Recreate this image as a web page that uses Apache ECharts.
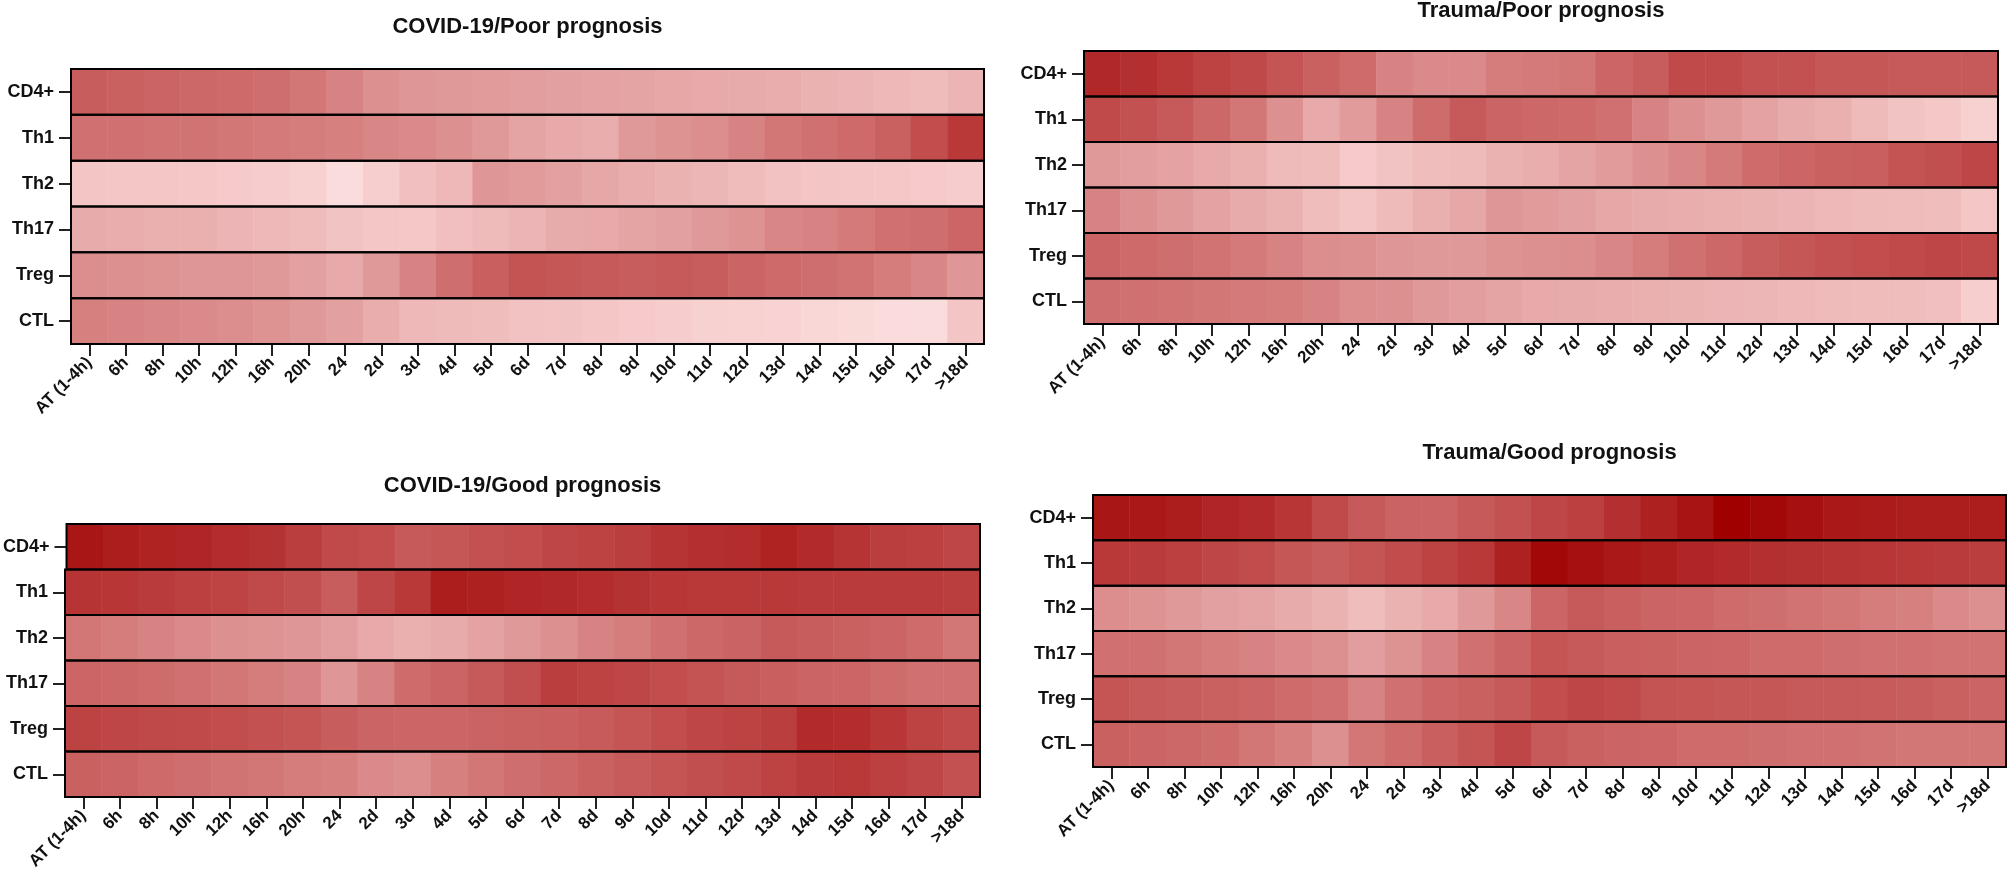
<!DOCTYPE html>
<html>
<head>
<meta charset="utf-8">
<title>T cell heatmaps</title>
<script src="https://cdn.jsdelivr.net/npm/echarts@6/dist/echarts.min.js"></script>
<style>
html, body { margin: 0; padding: 0; background: #fff; }
#main { width: 2008px; height: 883px; }
</style>
</head>
<body>
<div id="main"></div>
<script>
// categories
var timePoints = ['AT (1-4h)', '6h', '8h', '10h', '12h', '16h', '20h', '24', '2d', '3d', '4d', '5d', '6d',
    '7d', '8d', '9d', '10d', '11d', '12d', '13d', '14d', '15d', '16d', '17d', '>18d']
var cellTypes = ['CD4+', 'Th1', 'Th2', 'Th17', 'Treg', 'CTL']
var panelTitles = ['COVID-19/Poor prognosis', 'Trauma/Poor prognosis', 'COVID-19/Good prognosis', 'Trauma/Good prognosis']

// relative intensity (0 = palest, 100 = darkest), one row per cell type
var covidPoor = [
    [60, 58, 56, 54, 53, 51, 48, 44, 40, 38, 37, 36, 35, 34, 33, 32, 31, 30, 29, 28, 26, 25, 23, 21, 25],
    [50, 50, 49, 49, 48, 47, 46, 45, 43, 42, 40, 37, 32, 30, 28, 37, 39, 41, 44, 48, 50, 53, 58, 68, 78],
    [16, 15, 15, 14, 13, 12, 10, 3, 11, 19, 23, 38, 36, 34, 31, 28, 26, 24, 21, 18, 16, 15, 14, 13, 12],
    [29, 28, 27, 27, 25, 23, 21, 17, 15, 14, 19, 22, 25, 29, 30, 32, 34, 37, 39, 43, 44, 47, 50, 51, 55],
    [41, 40, 39, 38, 38, 37, 34, 30, 37, 44, 51, 59, 65, 63, 62, 60, 62, 60, 56, 53, 51, 49, 46, 43, 38],
    [45, 44, 43, 42, 41, 39, 37, 34, 28, 23, 22, 20, 18, 17, 15, 13, 12, 10, 9, 8, 6, 5, 4, 3, 16]
]
var traumaPoor = [
    [85, 82, 78, 74, 71, 64, 58, 52, 44, 42, 42, 46, 47, 48, 55, 60, 70, 70, 66, 66, 63, 63, 62, 62, 62],
    [70, 66, 62, 54, 48, 40, 30, 36, 44, 52, 62, 56, 54, 53, 50, 44, 40, 37, 33, 29, 27, 22, 17, 14, 10],
    [37, 35, 33, 30, 27, 22, 21, 13, 17, 20, 22, 26, 28, 32, 36, 40, 43, 47, 52, 55, 58, 59, 65, 67, 72],
    [44, 40, 37, 33, 29, 26, 20, 16, 22, 27, 31, 38, 36, 34, 31, 29, 28, 27, 26, 25, 23, 22, 21, 20, 15],
    [56, 53, 51, 49, 47, 44, 41, 40, 38, 37, 37, 39, 40, 41, 43, 46, 50, 54, 60, 63, 66, 68, 70, 72, 71],
    [51, 50, 49, 48, 47, 46, 44, 41, 40, 37, 35, 32, 30, 29, 28, 27, 26, 25, 24, 23, 22, 21, 20, 19, 11]
]
var covidGood = [
    [92, 89, 87, 86, 83, 81, 76, 70, 68, 62, 63, 66, 68, 72, 74, 76, 80, 82, 83, 87, 84, 80, 76, 75, 72],
    [80, 79, 77, 75, 73, 70, 67, 60, 72, 78, 89, 88, 86, 85, 83, 81, 79, 78, 78, 78, 77, 77, 77, 77, 76],
    [48, 46, 44, 42, 40, 39, 38, 35, 30, 27, 29, 33, 37, 40, 44, 46, 50, 54, 57, 62, 60, 58, 56, 52, 48],
    [55, 54, 52, 50, 48, 46, 44, 38, 44, 52, 56, 62, 67, 76, 74, 72, 68, 65, 62, 59, 56, 55, 52, 50, 50],
    [74, 72, 71, 70, 68, 66, 64, 60, 56, 55, 55, 57, 58, 59, 61, 64, 68, 72, 74, 76, 84, 83, 79, 74, 70],
    [58, 56, 53, 51, 49, 48, 46, 45, 42, 41, 45, 48, 51, 54, 58, 61, 64, 67, 70, 74, 77, 78, 75, 72, 66]
]
var traumaGood = [
    [92, 91, 89, 86, 84, 79, 70, 62, 57, 56, 62, 66, 72, 75, 82, 88, 93, 100, 97, 94, 91, 90, 89, 89, 89],
    [78, 77, 75, 72, 69, 63, 60, 64, 69, 74, 78, 88, 97, 94, 91, 89, 86, 84, 82, 81, 80, 79, 78, 77, 76],
    [41, 39, 37, 34, 32, 29, 26, 20, 26, 30, 37, 43, 55, 62, 59, 56, 55, 52, 51, 49, 48, 46, 45, 42, 40],
    [50, 50, 48, 46, 44, 42, 40, 35, 39, 44, 50, 56, 64, 62, 59, 58, 56, 55, 52, 52, 51, 50, 50, 49, 49],
    [64, 62, 60, 58, 56, 52, 50, 44, 50, 55, 58, 62, 68, 72, 70, 65, 64, 63, 63, 62, 62, 61, 60, 58, 56],
    [58, 56, 54, 52, 48, 45, 40, 48, 52, 59, 64, 72, 62, 58, 56, 55, 52, 52, 51, 50, 50, 49, 48, 48, 48]
]
var panelValues = [covidPoor, traumaPoor, covidGood, traumaGood]

// where each panel sits on the page (px)
var panelBoxes = [
    { left: 71, top: 69, width: 913, height: 275, titleY: 27 },
    { left: 1084, top: 51, width: 914, height: 273, titleY: 11 },
    { left: 65, top: 524, width: 915, height: 273, titleY: 486 },
    { left: 1093, top: 495, width: 913, height: 272, titleY: 453 }
]

var font = '"Liberation Sans", Arial, sans-serif'
var grids = [], xAxes = [], yAxes = [], series = [], texts = []

panelBoxes.forEach(function (box, p) {
    var rowH = box.height / cellTypes.length
    texts.push({
        type: 'text',
        x: box.left + box.width / 2,
        y: box.titleY,
        style: {
            text: panelTitles[p],
            fill: '#111',
            font: 'bold 22px ' + font,
            textAlign: 'center',
            textVerticalAlign: 'middle'
        }
    })
    for (var r = 0; r < cellTypes.length; r++) {
        var gi = grids.length
        var last = r === cellTypes.length - 1
        grids.push({
            left: box.left,
            top: box.top + r * rowH,
            width: box.width,
            height: rowH,
            show: true,
            z: 10,
            backgroundColor: 'transparent',
            borderColor: '#000',
            borderWidth: 2
        })
        xAxes.push({
            type: 'category',
            gridIndex: gi,
            data: timePoints,
            axisLine: { show: false },
            splitLine: { show: false },
            axisTick: { show: last, alignWithLabel: true, length: 12, lineStyle: { color: '#222', width: 2 } },
            axisLabel: {
                show: last, rotate: 45, interval: 0, margin: 16,
                color: '#111', fontSize: 17, fontWeight: 'bold', fontFamily: font
            }
        })
        yAxes.push({
            type: 'category',
            gridIndex: gi,
            data: [cellTypes[r]],
            axisLine: { show: false },
            splitLine: { show: false },
            axisTick: { show: true, alignWithLabel: true, length: 12, lineStyle: { color: '#222', width: 2 } },
            axisLabel: { margin: 17, color: '#111', fontSize: 18, fontWeight: 'bold', fontFamily: font }
        })
        series.push({
            type: 'heatmap',
            xAxisIndex: gi,
            yAxisIndex: gi,
            z: 1,
            emphasis: { disabled: true },
            data: panelValues[p][r].map(function (v, i) { return [i, 0, v] })
        })
    }
})

var chart = echarts.init(document.getElementById('main'))
chart.setOption({
    animation: false,
    backgroundColor: '#fff',
    tooltip: { show: false },
    visualMap: {
        show: false,
        min: 0,
        max: 100,
        inRange: {
            color: ['#fde2e2', '#f6cbcb', '#ecb4b4', '#e09898', '#d07070', '#c65858', '#bc4040', '#ae2222', '#a00000']
        }
    },
    grid: grids,
    xAxis: xAxes,
    yAxis: yAxes,
    series: series,
    graphic: texts
})
</script>
</body>
</html>
